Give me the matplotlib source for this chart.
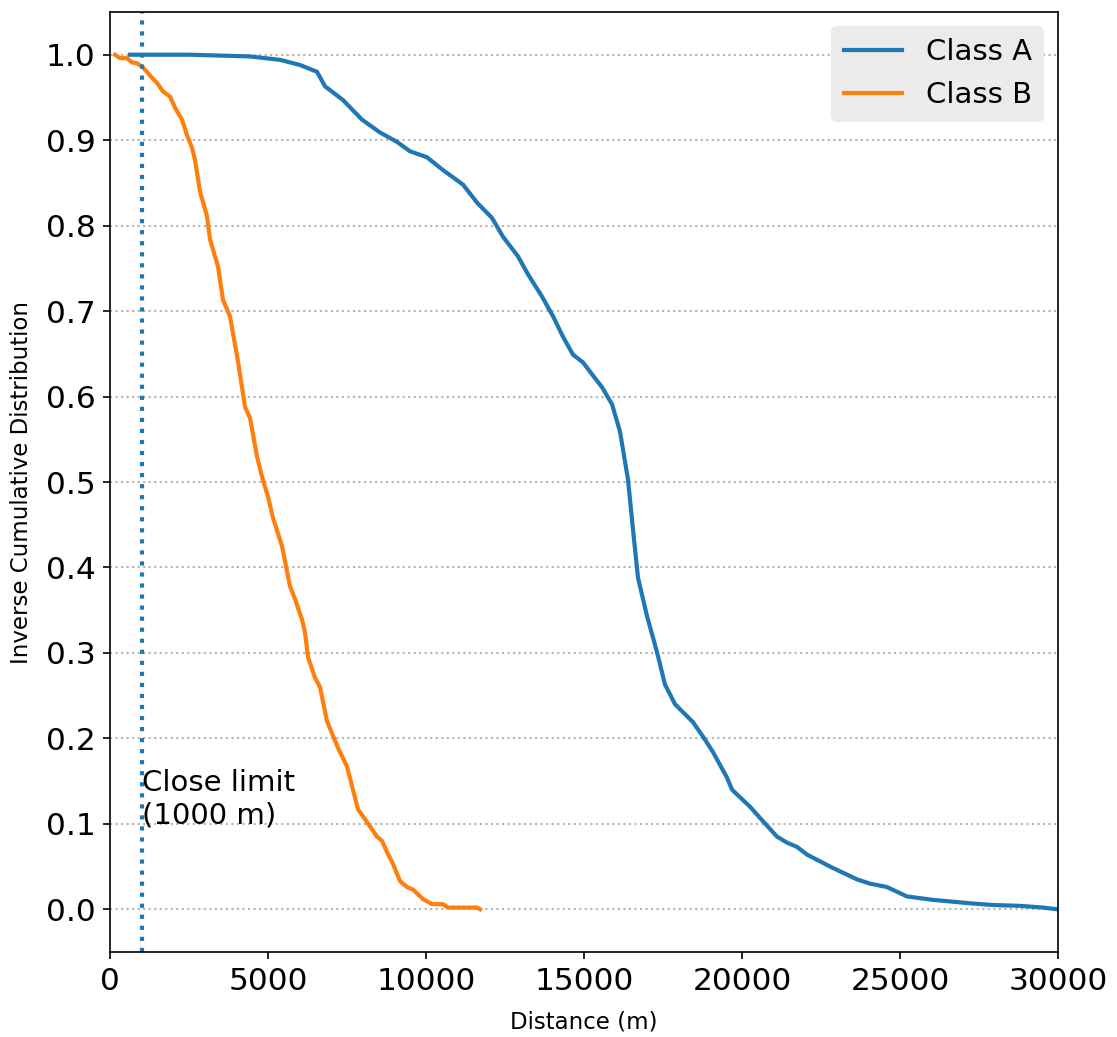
import numpy as np
import matplotlib
matplotlib.use("Agg")
import matplotlib.pyplot as plt

# Class A: distance (m) vs inverse cumulative distribution
dist_a = [633, 2532, 4430, 5380, 6013, 6551, 6804, 7373, 7975, 8544, 9082, 9494,
          10032, 10538, 11171, 11614, 12089, 12437, 12912, 13228, 13671, 14019,
          14335, 14652, 14968, 15253, 15570, 15886, 16139, 16392, 16551, 16709,
          16994, 17310, 17563, 17880, 18449, 18766, 19082, 19525, 19684, 20253,
          20665, 21108, 21424, 21741, 22057, 22785, 23639, 24051, 24589, 25222,
          26044, 27215, 27943, 28797, 29525, 29968]
icd_a = [1.000, 1.000, 0.998, 0.994, 0.988, 0.980, 0.963, 0.947, 0.924, 0.909,
         0.898, 0.887, 0.880, 0.865, 0.848, 0.827, 0.809, 0.787, 0.764, 0.743,
         0.717, 0.694, 0.670, 0.649, 0.640, 0.626, 0.611, 0.591, 0.559, 0.503,
         0.444, 0.388, 0.343, 0.301, 0.263, 0.240, 0.219, 0.202, 0.184, 0.154,
         0.140, 0.120, 0.103, 0.085, 0.078, 0.073, 0.064, 0.050, 0.035, 0.030,
         0.026, 0.015, 0.011, 0.007, 0.005, 0.004, 0.002, 0.000]

# Class B
dist_b = [158, 316, 538, 696, 854, 1013, 1171, 1329, 1487, 1677, 1899, 2057,
          2278, 2437, 2595, 2690, 2848, 3070, 3165, 3323, 3418, 3576, 3797, 4051,
          4272, 4430, 4652, 4810, 5000, 5158, 5443, 5696, 5854, 6076, 6171, 6266,
          6487, 6646, 6867, 7215, 7500, 7848, 8133, 8449, 8608, 8766, 8956, 9177,
          9399, 9589, 9905, 10190, 10538, 10696, 11614, 11709]
icd_b = [1.000, 0.996, 0.996, 0.991, 0.990, 0.986, 0.980, 0.973, 0.967, 0.957,
         0.951, 0.938, 0.924, 0.906, 0.891, 0.877, 0.840, 0.811, 0.784, 0.764,
         0.752, 0.713, 0.694, 0.641, 0.588, 0.575, 0.530, 0.506, 0.483, 0.458,
         0.425, 0.378, 0.363, 0.339, 0.324, 0.295, 0.271, 0.260, 0.220, 0.189,
         0.167, 0.117, 0.102, 0.085, 0.080, 0.067, 0.053, 0.033, 0.026, 0.023,
         0.012, 0.006, 0.006, 0.002, 0.002, 0.000]

close_limit = 1000

fig = plt.figure(figsize=(1117 / 150, 1037 / 150), dpi=150)
ax = fig.add_axes([110 / 1117, 1 - 952 / 1037, 948 / 1117, 940 / 1037])

ax.plot(dist_a, icd_a, color='C0', lw=2, label='Class A')
ax.plot(dist_b, icd_b, color='C1', lw=2, label='Class B')
ax.axvline(close_limit, color='C0', linestyle=':', lw=2)
ax.text(close_limit, 0.1, 'Close limit\n(1000 m)', fontsize=14)

ax.set_xlim(0, 30000)
ax.set_ylim(-0.05, 1.05)
ax.set_yticks(np.arange(0, 1.01, 0.1))
ax.yaxis.grid(True, linestyle=':', color='0.7', lw=1)
ax.tick_params(labelsize=15)
ax.set_xlabel('Distance (m)', fontsize=11, labelpad=7)
ax.set_ylabel('Inverse Cumulative Distribution', fontsize=11, labelpad=6)

leg = ax.legend(fontsize=14, facecolor='#ebebeb', edgecolor='#ebebeb',
                framealpha=1, loc='upper right')

fig.savefig('out.png', dpi=150)
